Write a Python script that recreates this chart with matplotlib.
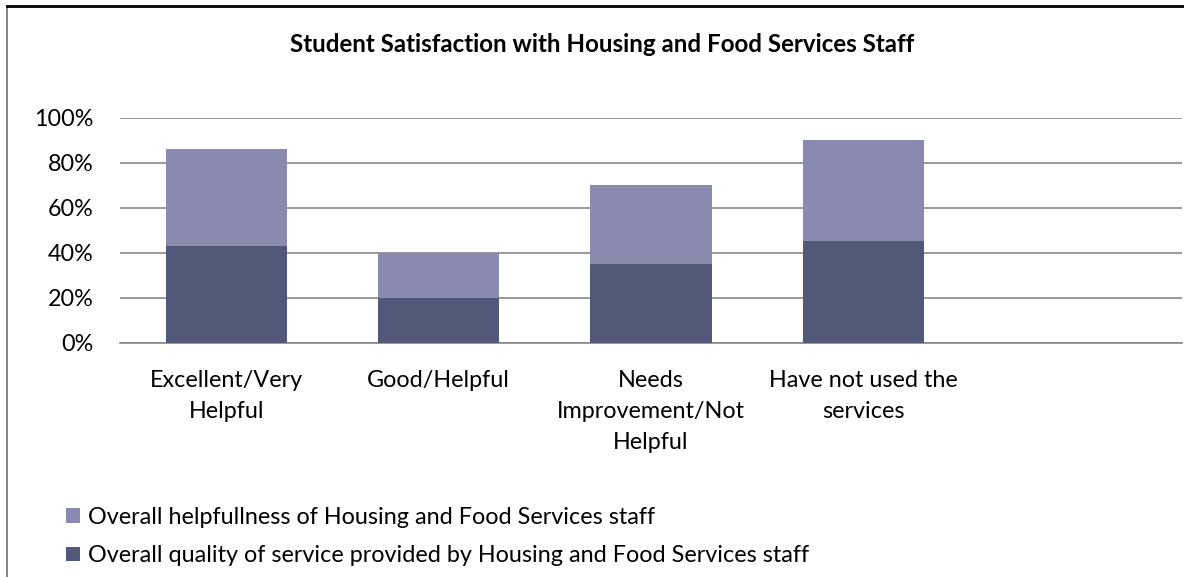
import numpy as np
import matplotlib.pyplot as plt
from matplotlib.lines import Line2D

plt.rcParams['font.family'] = ['Lato', 'DejaVu Sans']

categories = ["Excellent/Very\nHelpful", "Good/Helpful", "Needs\nImprovement/Not\nHelpful",
              "Have not used the\nservices", ""]
quality = [43, 20, 35, 45]
helpfulness = [43, 20, 35, 45]
yticks = [0, 20, 40, 60, 80, 100]

light = "#8a89b0"
dark = "#51587a"
grid = "#878787"

fig = plt.figure(figsize=(11.84, 5.77), dpi=100)
ax = fig.add_axes([120 / 1184, 1 - 342.7 / 577, 1062 / 1184, 225 / 577])

x = np.arange(len(quality))
ax.bar(x, quality, width=0.57, color=dark, zorder=3,
       label="Overall quality of service provided by Housing and Food Services staff")
ax.bar(x, helpfulness, width=0.57, bottom=quality, color=light, zorder=3,
       label="Overall helpfullness of Housing and Food Services staff")

ax.set_xlim(-0.5, len(categories) - 0.5)
ax.set_ylim(0, 100)
ax.set_yticks(yticks)
ax.set_yticklabels([f"{v}%" for v in yticks])
ax.set_xticks(np.arange(len(categories)))
ax.set_xticklabels(categories, linespacing=1.58)
ax.yaxis.grid(True, color=grid, linewidth=1.2, zorder=0)
for s in ["top", "right", "left"]:
    ax.spines[s].set_visible(False)
ax.spines["bottom"].set_color(grid)
ax.spines["bottom"].set_linewidth(1.2)
ax.tick_params(axis="both", length=0, labelsize=16.8, colors="black")
ax.tick_params(axis="y", pad=19)
ax.tick_params(axis="x", pad=20)

fig.text(602 / 1184, 1 - 45 / 577, "Student Satisfaction with Housing and Food Services Staff",
         ha="center", va="center", fontsize=17.4, fontweight="bold")

h, l = ax.get_legend_handles_labels()
fig.legend(h[::-1], l[::-1], loc="upper left", bbox_to_anchor=(54 / 1184, 1 - 495 / 577),
           frameon=False, fontsize=16.8, handlelength=0.6, handleheight=0.6,
           handletextpad=0.35, labelspacing=0.75, borderpad=0)

# chart border
fig.add_artist(Line2D([7 / 1184, 7 / 1184], [0, 1 - 6 / 577], color="#6e6e6e", linewidth=1.2,
                      transform=fig.transFigure))
fig.add_artist(Line2D([7 / 1184, 1], [1 - 6 / 577, 1 - 6 / 577], color="black", linewidth=2,
                      transform=fig.transFigure))

fig.savefig("out.png", dpi=100)
